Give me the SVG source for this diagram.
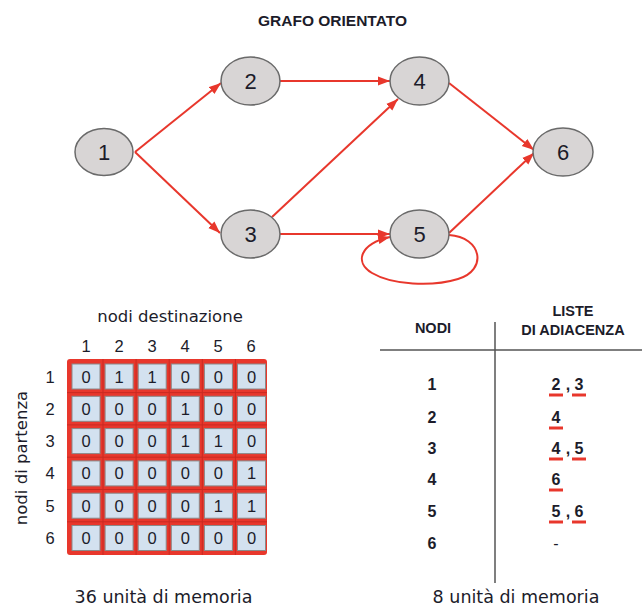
<svg xmlns="http://www.w3.org/2000/svg" width="642" height="610" viewBox="0 0 642 610">
  <defs>
    <marker id="arrow" markerUnits="userSpaceOnUse" markerWidth="13" markerHeight="10" refX="12" refY="5" orient="auto">
      <path d="M0,0.5 L12,5 L0,9.5 z" fill="#e8372c"/>
    </marker>
    <style>
      .node ellipse { fill: #d8d5d5; stroke: #6a6a6a; stroke-width: 1.5; }
      .node text { font-family: "Liberation Sans", Arial, sans-serif; font-size: 22px; fill: #1c1c2a; text-anchor: middle; }
      .edge { fill: none; stroke: #e8372c; stroke-width: 2; marker-end: url(#arrow); }
      .title { font-family: "Liberation Sans", Arial, sans-serif; font-weight: bold; font-size: 15.5px; fill: #1c1c2a; }
      .lbl { font-family: "DejaVu Sans", Verdana, sans-serif; fill: #1c1c2a; }
      .hdr { font-family: "Liberation Sans", Arial, sans-serif; font-size: 16.5px; fill: #1c1c2a; text-anchor: middle; }
      .cell rect { fill: #d3e1ef; stroke: #8a8a8a; stroke-width: 1; }
      .cell text { font-family: "Liberation Sans", Arial, sans-serif; font-size: 16.5px; fill: #1c1c2a; text-anchor: middle; }
      .bold { font-family: "Liberation Sans", Arial, sans-serif; font-weight: bold; fill: #1c1c2a; text-anchor: middle; }
      .ul { stroke: #e8372c; stroke-width: 3; }
      .rule { stroke: #555; stroke-width: 1.5; }
    </style>
  </defs>

  <rect width="642" height="610" fill="#ffffff"/>

  <text class="title" x="258" y="26">GRAFO ORIENTATO</text>

  <!-- connectors -->
  <g id="connectors">
    <path class="edge" d="M135,152 L221,83"/>
    <path class="edge" d="M135,152 L220,233"/>
    <path class="edge" d="M280,81 L390,81"/>
    <path class="edge" d="M272,217 L398,99"/>
    <path class="edge" d="M280,234 L390,234"/>
    <path class="edge" d="M449,83 L534,150"/>
    <path class="edge" d="M449,233 L534,153"/>
    <path class="edge" d="M449,235 C482,237 488,270 458,279 C432,287 392,285 372,273 C354,262 360,244 390,237"/>
  </g>

  <!-- graph nodes -->
  <g id="n1" class="node"><ellipse cx="104" cy="152" rx="29" ry="23.5"/><text x="104" y="160">1</text></g>
  <g id="n2" class="node"><ellipse cx="250.5" cy="81" rx="29.5" ry="24"/><text x="250.5" y="89">2</text></g>
  <g id="n3" class="node"><ellipse cx="250.5" cy="234" rx="29.5" ry="24"/><text x="250.5" y="242">3</text></g>
  <g id="n4" class="node"><ellipse cx="419.5" cy="81" rx="29.5" ry="24"/><text x="419.5" y="89">4</text></g>
  <g id="n5" class="node"><ellipse cx="419.5" cy="234" rx="29.5" ry="24"/><text x="419.5" y="242">5</text></g>
  <g id="n6" class="node"><ellipse cx="563" cy="152" rx="30" ry="24"/><text x="563" y="160">6</text></g>

  <!-- adjacency matrix -->
  <g id="matrix">
    <text class="lbl" x="170" y="322" font-size="16.5" text-anchor="middle">nodi destinazione</text>
    <text class="lbl" font-size="16.5" text-anchor="middle" transform="translate(27,458) rotate(-90)">nodi di partenza</text>
    <g class="hdr">
      <text x="86" y="352">1</text><text x="119" y="352">2</text><text x="152" y="352">3</text>
      <text x="185" y="352">4</text><text x="218" y="352">5</text><text x="251" y="352">6</text>
      <text x="50" y="382.5">1</text><text x="50" y="414.8">2</text><text x="50" y="447.1">3</text>
      <text x="50" y="479.4">4</text><text x="50" y="511.7">5</text><text x="50" y="544">6</text>
    </g>
    <rect x="67" y="359" width="200" height="196" rx="3" fill="#e8372c"/>
    <g stroke="#c92a22" stroke-width="1" fill="none">
      <path d="M103,359 V555 M136.1,359 V555 M169.2,359 V555 M202.3,359 V555 M235.4,359 V555"/>
      <path d="M67,392.6 H267 M67,424.9 H267 M67,457.2 H267 M67,489.5 H267 M67,521.8 H267"/>
    </g>
    <g class="cell">
      <rect x="72" y="364" width="28" height="25"/><rect x="105.1" y="364" width="28" height="25"/><rect x="138.2" y="364" width="28" height="25"/><rect x="171.3" y="364" width="28" height="25"/><rect x="204.4" y="364" width="28" height="25"/><rect x="237.5" y="364" width="28" height="25"/>
      <rect x="72" y="396.3" width="28" height="25"/><rect x="105.1" y="396.3" width="28" height="25"/><rect x="138.2" y="396.3" width="28" height="25"/><rect x="171.3" y="396.3" width="28" height="25"/><rect x="204.4" y="396.3" width="28" height="25"/><rect x="237.5" y="396.3" width="28" height="25"/>
      <rect x="72" y="428.6" width="28" height="25"/><rect x="105.1" y="428.6" width="28" height="25"/><rect x="138.2" y="428.6" width="28" height="25"/><rect x="171.3" y="428.6" width="28" height="25"/><rect x="204.4" y="428.6" width="28" height="25"/><rect x="237.5" y="428.6" width="28" height="25"/>
      <rect x="72" y="460.9" width="28" height="25"/><rect x="105.1" y="460.9" width="28" height="25"/><rect x="138.2" y="460.9" width="28" height="25"/><rect x="171.3" y="460.9" width="28" height="25"/><rect x="204.4" y="460.9" width="28" height="25"/><rect x="237.5" y="460.9" width="28" height="25"/>
      <rect x="72" y="493.2" width="28" height="25"/><rect x="105.1" y="493.2" width="28" height="25"/><rect x="138.2" y="493.2" width="28" height="25"/><rect x="171.3" y="493.2" width="28" height="25"/><rect x="204.4" y="493.2" width="28" height="25"/><rect x="237.5" y="493.2" width="28" height="25"/>
      <rect x="72" y="525.5" width="28" height="25"/><rect x="105.1" y="525.5" width="28" height="25"/><rect x="138.2" y="525.5" width="28" height="25"/><rect x="171.3" y="525.5" width="28" height="25"/><rect x="204.4" y="525.5" width="28" height="25"/><rect x="237.5" y="525.5" width="28" height="25"/>

      <text x="86" y="382.5">0</text><text x="119.1" y="382.5">1</text><text x="152.2" y="382.5">1</text><text x="185.3" y="382.5">0</text><text x="218.4" y="382.5">0</text><text x="251.5" y="382.5">0</text>
      <text x="86" y="414.8">0</text><text x="119.1" y="414.8">0</text><text x="152.2" y="414.8">0</text><text x="185.3" y="414.8">1</text><text x="218.4" y="414.8">0</text><text x="251.5" y="414.8">0</text>
      <text x="86" y="447.1">0</text><text x="119.1" y="447.1">0</text><text x="152.2" y="447.1">0</text><text x="185.3" y="447.1">1</text><text x="218.4" y="447.1">1</text><text x="251.5" y="447.1">0</text>
      <text x="86" y="479.4">0</text><text x="119.1" y="479.4">0</text><text x="152.2" y="479.4">0</text><text x="185.3" y="479.4">0</text><text x="218.4" y="479.4">0</text><text x="251.5" y="479.4">1</text>
      <text x="86" y="511.7">0</text><text x="119.1" y="511.7">0</text><text x="152.2" y="511.7">0</text><text x="185.3" y="511.7">0</text><text x="218.4" y="511.7">1</text><text x="251.5" y="511.7">1</text>
      <text x="86" y="544">0</text><text x="119.1" y="544">0</text><text x="152.2" y="544">0</text><text x="185.3" y="544">0</text><text x="218.4" y="544">0</text><text x="251.5" y="544">0</text>
    </g>
    <text class="lbl" x="163.5" y="603" font-size="17.5" text-anchor="middle">36 unità di memoria</text>
  </g>

  <!-- adjacency lists -->
  <g id="lists">
    <text class="bold" x="433" y="333" font-size="14.5">NODI</text>
    <text class="bold" x="573" y="316" font-size="14.5">LISTE</text>
    <text class="bold" x="573" y="335" font-size="14.5">DI ADIACENZA</text>
    <line class="rule" x1="495" y1="322" x2="495" y2="583"/>
    <line class="rule" x1="380" y1="350" x2="642" y2="350"/>
    <g class="bold" font-size="16">
      <text x="432" y="390">1</text><text x="432" y="423">2</text><text x="432" y="454">3</text>
      <text x="432" y="485">4</text><text x="432" y="517">5</text><text x="432" y="549">6</text>
      <text x="556" y="390">2</text><text x="568" y="390">,</text><text x="579" y="390">3</text>
      <text x="556" y="423">4</text>
      <text x="556" y="454">4</text><text x="568" y="454">,</text><text x="579" y="454">5</text>
      <text x="556" y="485">6</text>
      <text x="556" y="517">5</text><text x="568" y="517">,</text><text x="579" y="517">6</text>
      <text x="556" y="549" font-weight="normal">-</text>
    </g>
    <g class="ul">
      <line x1="549" y1="395" x2="563" y2="395"/><line x1="572" y1="395" x2="586" y2="395"/>
      <line x1="549" y1="428" x2="563" y2="428"/>
      <line x1="549" y1="459" x2="563" y2="459"/><line x1="572" y1="459" x2="586" y2="459"/>
      <line x1="549" y1="490" x2="563" y2="490"/>
      <line x1="549" y1="522" x2="563" y2="522"/><line x1="572" y1="522" x2="586" y2="522"/>
    </g>
    <text class="lbl" x="516" y="603" font-size="17.5" text-anchor="middle">8 unità di memoria</text>
  </g>
</svg>
